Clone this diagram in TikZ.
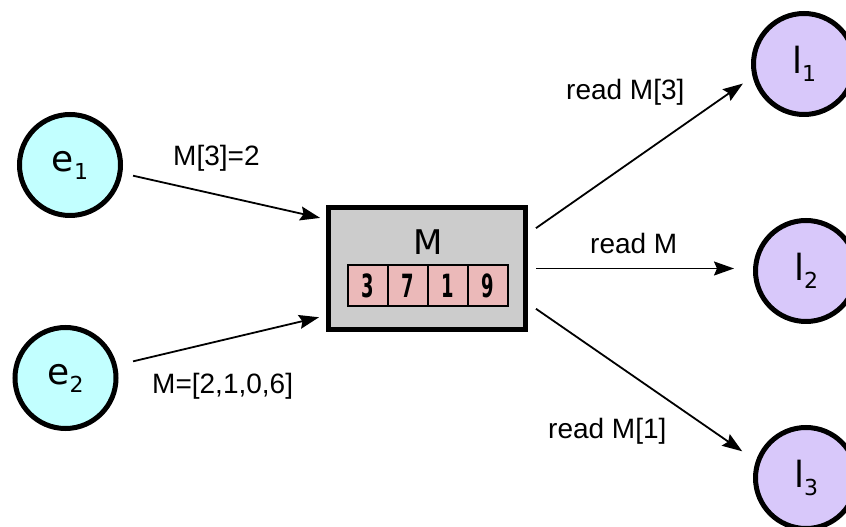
\documentclass[tikz,border=0pt]{standalone}
\usepackage{fontspec}
\setmainfont{Liberation Sans}
\newfontfamily\dejavu{DejaVu Sans}
\usetikzlibrary{arrows.meta}
\definecolor{ecol}{RGB}{194,255,255}
\definecolor{lcol}{RGB}{216,200,250}
\definecolor{boxcol}{RGB}{204,204,204}
\definecolor{cellcol}{RGB}{235,185,185}
\newcommand{\nlab}[2]{{\dejavu\fontsize{36}{40}\selectfont #1\raisebox{-8pt}{\fontsize{22}{24}\selectfont #2}}}
\newcommand{\cellnum}[1]{\scalebox{0.56}[1]{\dejavu\bfseries\fontsize{32}{34}\selectfont #1}}
\tikzset{
  enode/.style={circle, draw=black, line width=5pt, fill=ecol, minimum size=101pt, inner sep=0pt},
  lnode/.style={circle, draw=black, line width=5pt, fill=lcol, minimum size=101pt, inner sep=0pt},
  membox/.style={rectangle, draw=black, line width=5pt, fill=boxcol, minimum width=197pt, minimum height=122pt, inner sep=0pt},
  cellbox/.style={rectangle, draw=black, line width=1.8pt, fill=cellcol, minimum width=40pt, minimum height=41pt, inner sep=0pt},
  elabel/.style={anchor=base west, inner sep=0pt, font=\fontsize{28}{32}\selectfont},
  conn/.style={line width=1.8pt, -{Stealth[length=20pt,width=14pt,inset=3pt]}}
}
\begin{document}
\begin{tikzpicture}[x=1pt,y=1pt]
\useasboundingbox (0,0) rectangle (846,527);
% nodes
\node[enode] (e1) at (70,362) {\nlab{e}{1}};
\node[enode] (e2) at (65.5,149) {\nlab{e}{2}};
\node[lnode] (l1) at (804,463) {\nlab{l}{1}};
\node[lnode] (l2) at (806,256) {\nlab{l}{2}};
\node[lnode] (l3) at (806,49) {\nlab{l}{3}};
\node[membox] (M) at (427,258.5) {};
\node[inner sep=0pt, font=\dejavu\fontsize{34}{38}\selectfont] (Mlab) at (428,285) {M};
\node[cellbox] (c1) at (368,241.5) {\cellnum{3}};
\node[cellbox] (c2) at (408,241.5) {\cellnum{7}};
\node[cellbox] (c3) at (448,241.5) {\cellnum{1}};
\node[cellbox] (c4) at (488,241.5) {\cellnum{9}};
% connectors
\draw[conn, shorten <=11pt, shorten >=6pt] (e1.-9.3) -- (M.154);
\draw[conn, shorten <=16.6pt, shorten >=7.2pt] (e2.14.5) -- (M.205.4);
\draw[conn, shorten <=9.7pt, shorten >=11.8pt] (M.19.6) -- (l1.194.5);
\draw[conn, shorten <=8pt, shorten >=19pt] (M.east) -- (M.east -| l2.west);
\draw[conn, shorten <=9.7pt, shorten >=16.6pt] (M.-19.6) -- (l3.161.7);
% labels
\node[elabel] (t1) at (173,361) {M[3]=2};
\node[elabel] (t2) at (152,133) {M=[2,1,0,6]};
\node[elabel] (t3) at (566,427) {read M[3]};
\node[elabel] (t4) at (590,273) {read M};
\node[elabel] (t5) at (548,88) {read M[1]};
\end{tikzpicture}
\end{document}
